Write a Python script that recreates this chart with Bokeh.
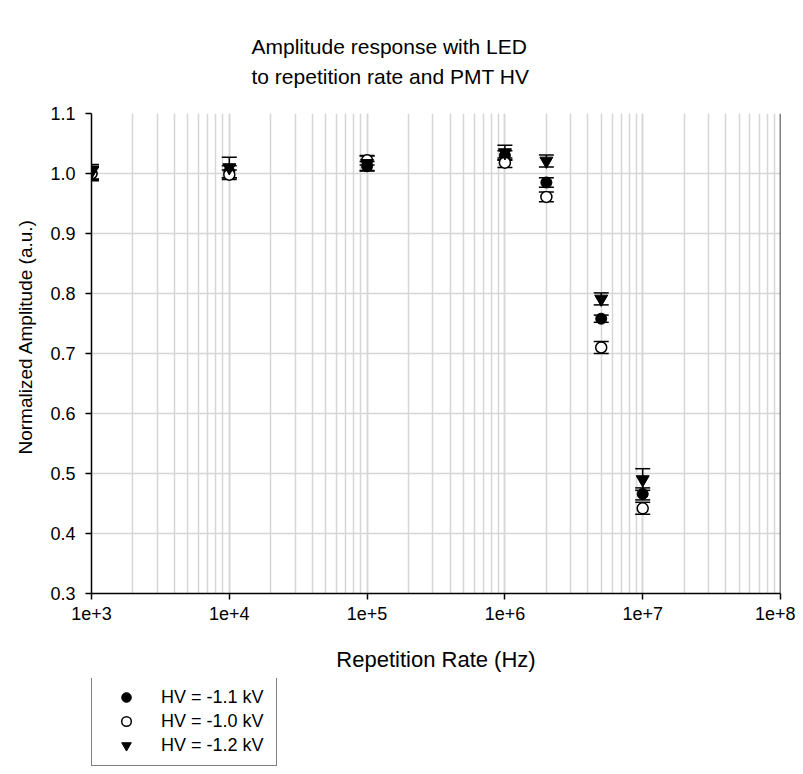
from bokeh.plotting import figure
from bokeh.layouts import column
from bokeh.models import (Range1d, LogTicker, FixedTicker, PrintfTickFormatter, Whisker, TeeHead,
                          ColumnDataSource, Legend, LegendItem, Title, Span)
from bokeh.embed import file_html
from bokeh.resources import INLINE

# ---- data ----
freq = [1e3, 1e4, 1e5, 1e6, 2e6, 5e6, 1e7]
amp_hv11 = [1.000, 1.003, 1.012, 1.030, 0.985, 0.758, 0.466]
err_hv11 = [0.010, 0.010, 0.008, 0.008, 0.008, 0.006, 0.010]
amp_hv10 = [1.000, 0.998, 1.022, 1.018, 0.961, 0.710, 0.442]
err_hv10 = [0.012, 0.008, 0.008, 0.008, 0.008, 0.010, 0.010]
amp_hv12 = [1.003, 1.010, 1.017, 1.035, 1.021, 0.791, 0.490]
err_hv12 = [0.012, 0.017, 0.012, 0.012, 0.010, 0.010, 0.018]
labels = ["HV = -1.1 kV", "HV = -1.0 kV", "HV = -1.2 kV"]
x_tick_values = [1e3, 1e4, 1e5, 1e6, 1e7, 1e8]
x_tick_labels = ["1e+3", "1e+4", "1e+5", "1e+6", "1e+7", "1e+8"]
y_tick_values = [0.3, 0.4, 0.5, 0.6, 0.7, 0.8, 0.9, 1.0, 1.1]

FONT = "Liberation Sans"
GRID = "#d6d6d6"

p = figure(width=795, height=678, x_axis_type="log",
           x_range=Range1d(1e3, 1e8), y_range=Range1d(0.3, 1.1),
           output_backend="svg", toolbar_location=None, title=None,
           min_border_left=91, min_border_right=15, min_border_top=113, min_border_bottom=85)
p.outline_line_color = None
p.background_fill_color = "white"
p.border_fill_color = "white"

# axes
p.xaxis.ticker = LogTicker(num_minor_ticks=10)
p.xaxis.major_label_overrides = {v: s for v, s in zip(x_tick_values, x_tick_labels)}
p.yaxis.ticker = FixedTicker(ticks=y_tick_values, minor_ticks=[])
p.yaxis.formatter = PrintfTickFormatter(format="%.1f")
for ax in (p.xaxis[0], p.yaxis[0]):
    ax.axis_line_color = "black"
    ax.axis_line_width = 1.5
    ax.major_tick_line_color = "black"
    ax.major_tick_line_width = 1.5
    ax.major_tick_out = 6
    ax.major_tick_in = 0
    ax.minor_tick_line_color = None
    ax.major_label_text_font = FONT
    ax.major_label_text_font_size = "18px"
    ax.major_label_text_color = "black"
p.xaxis.major_label_standoff = 7
p.yaxis.major_label_standoff = 10
p.xaxis.axis_label = "Repetition Rate (Hz)"
p.xaxis.axis_label_text_font = FONT
p.xaxis.axis_label_text_font_size = "22px"
p.xaxis.axis_label_text_font_style = "normal"
p.xaxis.axis_label_text_color = "black"
p.xaxis.axis_label_standoff = 24

ylab = Title(text="Normalized Amplitude (a.u.)", align="left", offset=139,
             text_font=FONT, text_font_size="19px", text_font_style="normal",
             text_color="black", standoff=24)
p.add_layout(ylab, "left")

# grid
p.xgrid.grid_line_color = GRID
p.xgrid.grid_line_width = 1.5
p.xgrid.minor_grid_line_color = GRID
p.xgrid.minor_grid_line_width = 1.5
p.ygrid.grid_line_color = GRID
p.ygrid.grid_line_width = 1.5

p.add_layout(Span(location=1e8, dimension="height", line_color="black", line_width=1.5))

# title (two lines)
title = Title(text="Amplitude response with LED\nto repetition rate and PMT HV", align="left", offset=160,
              text_font=FONT, text_font_size="21px", text_font_style="normal", text_color="black",
              text_line_height=1.3, standoff=51)
p.add_layout(title, "above")

# data series
styles = [
    dict(marker="circle", size=11, fill_color="black", line_color="black"),
    dict(marker="circle", size=11, fill_color="white", line_color="black", line_width=1.5),
    dict(marker="inverted_triangle", size=13, fill_color="black", line_color="black"),
]
series = [(amp_hv11, err_hv11), (amp_hv10, err_hv10), (amp_hv12, err_hv12)]
for (amp, err), style in zip(series, styles):
    src = ColumnDataSource(dict(
        x=freq, y=amp,
        lower=[a - e for a, e in zip(amp, err)],
        upper=[a + e for a, e in zip(amp, err)],
    ))
    w = Whisker(base="x", lower="lower", upper="upper", source=src, dimension="height",
                line_color="black", line_width=1.5, level="underlay",
                upper_head=TeeHead(size=15, line_color="black", line_width=1.5),
                lower_head=TeeHead(size=15, line_color="black", line_width=1.5))
    p.add_layout(w)
    p.scatter("x", "y", source=src, **style)

# legend strip below the plot (same marker styles; its ranges keep the points out of view)
lg = figure(width=795, height=94, output_backend="svg", toolbar_location=None, title=None,
            x_axis_location=None, y_axis_location=None, min_border=0,
            x_range=Range1d(0, 1), y_range=Range1d(0, 1))
lg.outline_line_color = None
lg.grid.visible = False
lg_renderers = [lg.scatter(x=freq, y=amp, **style) for (amp, _), style in zip(series, styles)]
legend = Legend(items=[LegendItem(label=l, renderers=[r]) for l, r in zip(labels, lg_renderers)],
                location=(0, 6), border_line_color="black", border_line_width=1,
                background_fill_color="white", background_fill_alpha=1,
                label_text_font=FONT, label_text_font_size="18px", label_text_color="black",
                glyph_width=52, glyph_height=24, label_height=24, spacing=0, padding=8,
                label_standoff=9, label_width=107, margin=0)
lg.add_layout(legend)

layout = column(p, lg, spacing=0)
open("out.html", "w").write(file_html(layout, INLINE))
